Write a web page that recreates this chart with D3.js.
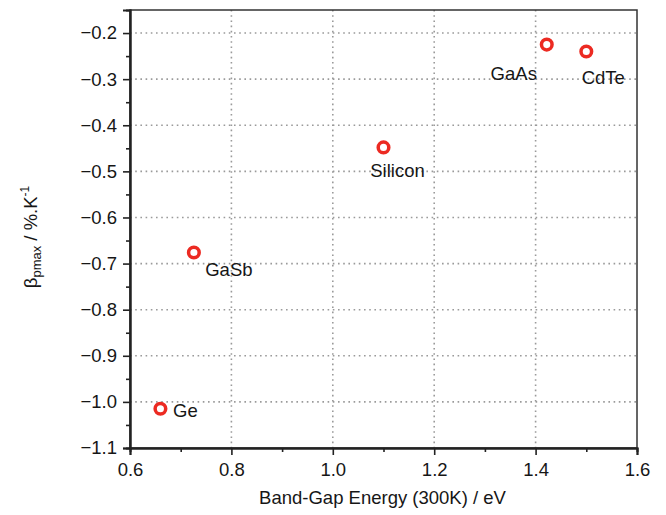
<!DOCTYPE html>
<html><head><meta charset="utf-8">
<script src="https://cdn.jsdelivr.net/npm/d3@7"></script>
<style>body{margin:0;background:#fff;} text{font-family:"Liberation Sans",Arial,sans-serif;}</style>
</head><body><svg id="c" width="666" height="515"></svg>
<script>
const materials = ["Ge", "GaSb", "Silicon", "GaAs", "CdTe"];
const bandGap = [0.66, 0.726, 1.10, 1.422, 1.50];
const beta = [-1.015, -0.676, -0.448, -0.225, -0.240];
const xTicks = [0.6, 0.8, 1.0, 1.2, 1.4, 1.6];
const yTicks = [-0.2, -0.3, -0.4, -0.5, -0.6, -0.7, -0.8, -0.9, -1.0, -1.1];
const xMinor = [0.7, 0.9, 1.1, 1.3, 1.5];
const yMinor = [-0.25, -0.35, -0.45, -0.55, -0.65, -0.75, -0.85, -0.95, -1.05];
// label offsets (dx, dy) relative to point
const labelDx = [25, 35, 14, -33, 17];
const labelDy = [8, 23, 30, 35, 33];

const L = 130, R = 637, T = 10, B = 448;
const svg = d3.select("#c");
const x = d3.scaleLinear().domain([0.6, 1.6]).range([L, R]);
const y = d3.scaleLinear().domain([-1.1, -0.15]).range([B, T]);

const fmtX = d => d.toFixed(1);
const fmtY = d => d.toFixed(1).replace("-", "\u2212");
const FS = 18.5;
const TXT = "#161616";

// grid
const g = svg.append("g");
g.selectAll(".gx").data(xTicks.slice(1, -1)).join("line")
  .attr("x1", d => x(d)).attr("x2", d => x(d)).attr("y1", T).attr("y2", B)
  .attr("stroke", "#9a9a9a").attr("stroke-width", 1.6).attr("stroke-dasharray", "1.6,3.6");
g.selectAll(".gy").data(yTicks.slice(0, -1)).join("line")
  .attr("y1", d => y(d)).attr("y2", d => y(d)).attr("x1", L).attr("x2", R)
  .attr("stroke", "#9a9a9a").attr("stroke-width", 1.6).attr("stroke-dasharray", "1.6,3.6");

// frame
svg.append("rect").attr("x", L).attr("y", T).attr("width", R - L).attr("height", B - T)
  .attr("fill", "none").attr("stroke", "#333").attr("stroke-width", 1.5);

// axes
svg.append("g").attr("transform", `translate(0,${B})`)
  .call(d3.axisBottom(x).tickValues(xTicks).tickFormat(fmtX).tickSize(7).tickPadding(8));
svg.append("g").attr("transform", `translate(0,${B})`)
  .call(d3.axisBottom(x).tickValues(xMinor).tickFormat("").tickSize(4));
svg.append("g").attr("transform", `translate(${L},0)`)
  .call(d3.axisLeft(y).tickValues(yTicks).tickFormat(fmtY).tickSize(7).tickPadding(6));
svg.append("g").attr("transform", `translate(${L},0)`)
  .call(d3.axisLeft(y).tickValues(yMinor).tickFormat("").tickSize(4));
svg.selectAll(".domain").attr("stroke", "#222").attr("stroke-width", 2);
svg.selectAll(".tick line").attr("stroke", "#222").attr("stroke-width", 1.6);
svg.selectAll(".tick text").attr("font-size", FS).attr("fill", TXT)
  .style("font-family", "'Liberation Sans',Arial,sans-serif");

// points
svg.selectAll(".pt").data(materials).join("circle")
  .attr("cx", (d, i) => x(bandGap[i])).attr("cy", (d, i) => y(beta[i]))
  .attr("r", 5.3).attr("fill", "#fff").attr("stroke", "#ec2a22").attr("stroke-width", 3.5);

svg.selectAll(".lbl").data(materials).join("text")
  .attr("x", (d, i) => x(bandGap[i]) + labelDx[i]).attr("y", (d, i) => y(beta[i]) + labelDy[i])
  .attr("text-anchor", "middle").attr("font-size", FS).attr("fill", TXT).text(d => d);

// axis titles
svg.append("text").attr("x", (L + R) / 2 - 1).attr("y", 504).attr("text-anchor", "middle")
  .attr("font-size", FS).attr("fill", TXT).text("Band-Gap Energy (300K) / eV");
const yl = svg.append("text").attr("transform", "translate(37,237) rotate(-90)")
  .attr("text-anchor", "middle").attr("font-size", FS).attr("fill", TXT);
yl.append("tspan").text("\u03b2");
yl.append("tspan").attr("font-size", 13).attr("dy", 4).text("pmax");
yl.append("tspan").attr("dy", -4).text("  / %.K");
yl.append("tspan").attr("font-size", 12).attr("dy", -8).text("-1");
</script></body></html>
